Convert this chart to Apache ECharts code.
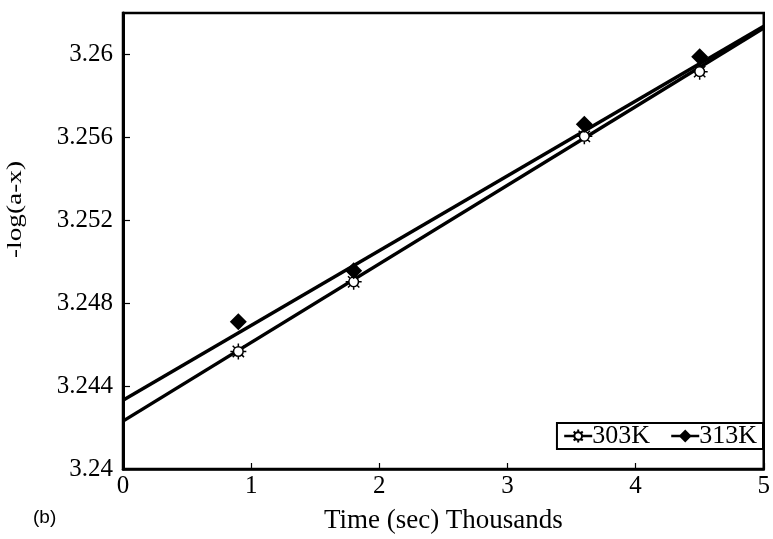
<!DOCTYPE html>
<html>
<head>
<meta charset="utf-8">
<style>
  html, body { margin: 0; padding: 0; background: #fff; }
  #chart { width: 773px; height: 539px; }
</style>
<script src="https://cdn.jsdelivr.net/npm/echarts@6/dist/echarts.min.js"></script>
</head>
<body>
<div id="chart"></div>
<script>
// Time in thousands of seconds
const times = [0.9, 1.8, 3.6, 4.5];
// Measured -log(a-x)
const k303 = [3.24567, 3.24903, 3.25605, 3.25917];
const k313 = [3.24711, 3.24956, 3.25663, 3.25989];
// Straight-line fits, end points at t = 0 and t = 5
const fitT = [0, 5];
const fit303 = [3.24231, 3.26128];
const fit313 = [3.24332, 3.26136];
const seriesNames = ['303K', '313K'];
const xTicks = { min: 0, max: 5, step: 1 };
const yTicks = { min: 3.24, max: 3.262, step: 0.004 };

const FONT = '"Liberation Serif", "Times New Roman", serif';

// open "sun" marker: a ring with eight short rays
function sunPath() {
  let d = 'M50 20 A30 30 0 1 1 49.99 20 Z';
  for (let i = 0; i < 8; i++) {
    const a = Math.PI * i / 4;
    const c = Math.cos(a), s = Math.sin(a);
    d += ' M' + (50 + 30 * c).toFixed(2) + ' ' + (50 + 30 * s).toFixed(2) +
         ' L' + (50 + 50 * c).toFixed(2) + ' ' + (50 + 50 * s).toFixed(2);
  }
  return 'path://' + d;
}
const SUN = sunPath();

const pairs = (xs, ys) => xs.map((x, i) => [x, ys[i]]);

const chart = echarts.init(document.getElementById('chart'));
chart.setOption({
  animation: false,
  backgroundColor: '#fff',
  grid: {
    left: 123, right: 8, top: 13, bottom: 68,
    show: true, borderColor: '#000', borderWidth: 2.5, backgroundColor: 'transparent'
  },
  xAxis: {
    type: 'value',
    min: xTicks.min, max: xTicks.max, interval: xTicks.step,
    name: 'Time (sec) Thousands',
    nameLocation: 'middle',
    nameGap: 38,
    nameTextStyle: { fontFamily: FONT, fontSize: 27, color: '#000' },
    axisLine: { show: true, onZero: false, lineStyle: { color: '#000', width: 2.5 } },
    axisTick: { show: true, inside: true, length: 6, lineStyle: { color: '#000', width: 1.2 } },
    axisLabel: { fontFamily: FONT, fontSize: 25, color: '#000', margin: 5 },
    splitLine: { show: false }
  },
  yAxis: {
    type: 'value',
    min: yTicks.min, max: yTicks.max, interval: yTicks.step,
    axisLine: { show: true, lineStyle: { color: '#000', width: 3 } },
    axisTick: { show: true, inside: true, length: 7, lineStyle: { color: '#000', width: 1.2 } },
    axisLabel: { fontFamily: FONT, fontSize: 25, color: '#000', margin: 10, showMaxLabel: false },
    splitLine: { show: false }
  },
  legend: {
    right: 10, bottom: 90,
    orient: 'horizontal',
    backgroundColor: '#fff',
    borderColor: '#000', borderWidth: 2,
    padding: [0, 6, 0, 6],
    itemGap: 20,
    itemWidth: 28, itemHeight: 16,
    textStyle: { fontFamily: FONT, fontSize: 26, color: '#000', padding: [0, 0, 0, -5] },
    lineStyle: { color: '#000', width: 2.5, opacity: 1 },
    data: seriesNames
  },
  graphic: [
    {
      type: 'text', left: 5, top: 161, rotation: Math.PI / 2, scaleX: 1.3,
      style: { text: '-log(a-x)', font: '21px ' + FONT, fill: '#000' }
    },
    {
      type: 'text', left: 33, top: 508,
      style: { text: '(b)', font: '19px "Liberation Sans", Arial, sans-serif', fill: '#000' }
    }
  ],
  series: [
    {
      type: 'line', silent: true, symbol: 'none', z: 2,
      lineStyle: { color: '#000', width: 3.5 },
      data: pairs(fitT, fit303)
    },
    {
      type: 'line', silent: true, symbol: 'none', z: 2,
      lineStyle: { color: '#000', width: 3.5 },
      data: pairs(fitT, fit313)
    },
    {
      name: seriesNames[0], type: 'line', z: 3,
      symbol: SUN, symbolSize: 16,
      itemStyle: { color: '#fff', borderColor: '#000', borderWidth: 1.5 },
      lineStyle: { opacity: 0 },
      data: pairs(times, k303)
    },
    {
      name: seriesNames[1], type: 'line', z: 4,
      symbol: 'diamond', symbolSize: 17,
      itemStyle: { color: '#000' },
      lineStyle: { opacity: 0 },
      data: pairs(times, k313)
    }
  ]
});
</script>
</body>
</html>
